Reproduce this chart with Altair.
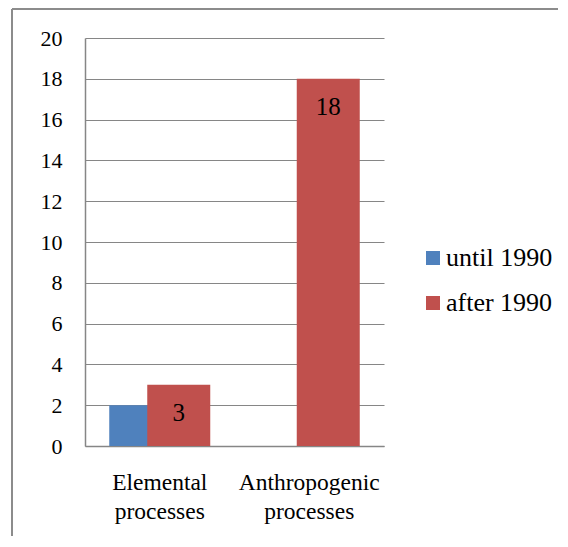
import altair as alt
import pandas as pd

categories = ["Elemental processes", "Anthropogenic processes"]
series = ["until 1990", "after 1990"]
until_1990 = [2, 0]
after_1990 = [3, 18]
colors = ["#4F81BD", "#C0504D"]

rows = []
for c, v in zip(categories, until_1990):
    rows.append({"category": c, "series": "until 1990", "value": v})
for c, v in zip(categories, after_1990):
    rows.append({"category": c, "series": "after 1990", "value": v})
df = pd.DataFrame(rows)

FONT = "Liberation Serif, Times New Roman, serif"

x = alt.X("category:N", sort=categories, title=None,
          scale=alt.Scale(paddingInner=0, paddingOuter=0),
          axis=alt.Axis(labelAngle=0, ticks=False, domainColor="#868686",
                        domainWidth=1.5, labelFontSize=23.5, labelFont=FONT,
                        labelColor="black", labelPadding=24, labelLineHeight=29,
                        labelExpr="split(datum.label, ' ')", grid=False))
y = alt.Y("value:Q", title=None,
          scale=alt.Scale(domain=[0, 20], nice=False),
          axis=alt.Axis(values=list(range(0, 21, 2)), ticks=False,
                        domainColor="#868686", domainWidth=1.5,
                        gridColor="#868686", gridWidth=1.2,
                        labelFontSize=22, labelFont=FONT, labelColor="black",
                        labelPadding=23))
color = alt.Color("series:N", scale=alt.Scale(domain=series, range=colors),
                  legend=alt.Legend(title=None, orient="none", legendX=335, legendY=207,
                                    padding=0, symbolType="square", symbolSize=196,
                                    symbolStrokeWidth=0, labelFontSize=26,
                                    labelFont=FONT, labelColor="black",
                                    labelOffset=0, rowPadding=19))

base = alt.Chart(df)
blue = base.transform_filter(alt.datum.series == "until 1990").mark_bar(
    width=63, xOffset=-19).encode(x=x, y=y, color=color)
red = base.transform_filter(alt.datum.series == "after 1990").mark_bar(
    width=63, xOffset=19).encode(x=x, y=y, color=color)
labels = base.transform_filter(alt.datum.series == "after 1990").mark_text(
    xOffset=19, dy=28, fontSize=25, font=FONT, color="black", baseline="middle"
).encode(x=x, y=y, text="value:Q")

border_df = pd.DataFrame({"a": [0]})
top_border = alt.Chart(border_df).mark_rule(color="#8c8c8c", strokeWidth=2).encode(
    x=alt.value(-73), x2=alt.value(500), y=alt.value(-29))
left_border = alt.Chart(border_df).mark_rule(color="#8c8c8c", strokeWidth=2).encode(
    x=alt.value(-73), y=alt.value(-29), y2=alt.value(520))

chart = alt.layer(blue, red, labels, top_border, left_border).properties(
    width=299, height=408,
    padding={"left": 77, "top": 30, "right": 174, "bottom": 90},
    autosize=alt.AutoSizeParams(type="none"),
).configure(font=FONT).configure_view(stroke=None)

chart.save("out.html", embed_options={"renderer": "svg", "actions": False})
